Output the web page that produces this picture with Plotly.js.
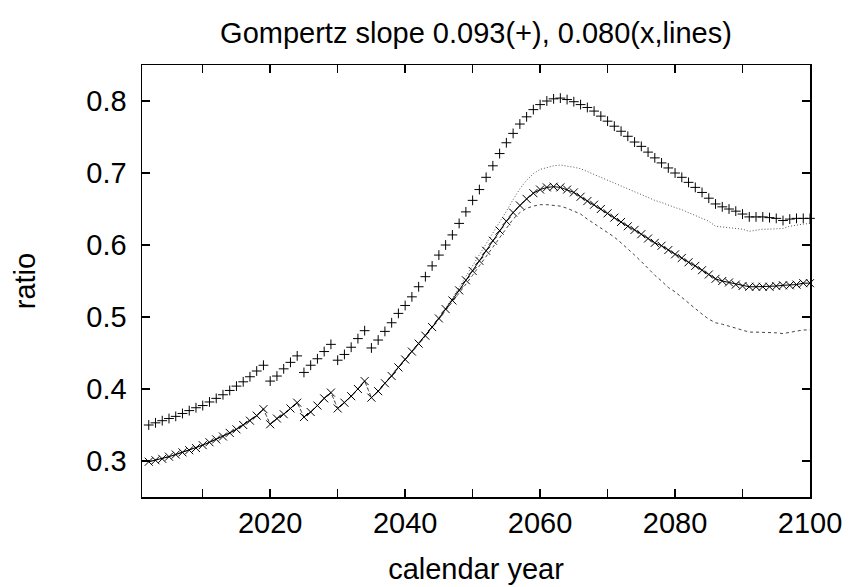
<!DOCTYPE html>
<html><head><meta charset="utf-8">
<script src="https://cdn.plot.ly/plotly-3.0.1.min.js"></script>
<style>body{margin:0;background:#fff}</style>
</head><body><div id="chart" style="width:850px;height:587px"></div>
<script>
const firstYear = 2002;

// Gompertz slope 0.093 (+ markers)
const plusVals = [
 0.350,0.353,0.356,0.359,0.362,0.366,0.370,0.374,0.377,
 0.382,0.387,0.392,0.398,0.404,0.410,0.417,0.425,0.433,
 0.411,0.418,0.428,0.437,0.446,
 0.423,0.433,0.442,0.452,0.462,
 0.440,0.448,0.458,0.470,0.481,
 0.457,0.468,0.480,0.492,0.505,
 0.516,0.528,0.542,0.556,0.571,0.586,0.600,0.614,0.630,0.646,
 0.662,0.677,0.694,0.710,0.727,0.742,0.755,0.768,0.778,0.788,
 0.795,0.800,0.803,0.804,0.802,0.799,0.795,0.791,0.786,0.779,
 0.772,0.765,0.758,0.751,0.743,0.737,0.729,0.721,0.714,0.707,
 0.700,0.694,0.687,0.680,0.673,0.665,0.657,0.653,0.650,0.647,
 0.643,0.639,0.639,0.639,0.638,0.637,0.634,0.636,0.637,0.637,0.637
];

// Gompertz slope 0.080 (x markers, solid line)
const xVals = [
 0.299,0.301,0.303,0.306,0.309,0.312,0.315,0.318,0.322,
 0.326,0.330,0.334,0.339,0.344,0.350,0.356,0.363,0.372,
 0.351,0.359,0.365,0.373,0.381,
 0.361,0.368,0.377,0.387,0.395,
 0.373,0.381,0.390,0.400,0.411,
 0.388,0.397,0.408,0.418,0.430,
 0.441,0.452,0.463,0.474,0.486,0.498,0.511,0.523,0.537,0.551,
 0.564,0.578,0.592,0.606,0.620,0.633,0.645,0.655,0.664,0.672,
 0.677,0.680,0.681,0.680,0.677,0.673,0.667,0.661,0.656,0.650,
 0.644,0.638,0.632,0.626,0.621,0.615,0.609,0.603,0.599,0.593,
 0.587,0.582,0.576,0.571,0.565,0.559,0.553,0.550,0.548,0.545,
 0.543,0.542,0.542,0.542,0.542,0.543,0.544,0.544,0.545,0.547,0.547
];

// upper dotted line
const dottedVals = [
 0.299,0.301,0.303,0.306,0.309,0.312,0.315,0.318,0.322,
 0.326,0.330,0.334,0.339,0.344,0.350,0.356,0.363,0.372,
 0.351,0.359,0.365,0.373,0.381,
 0.361,0.368,0.377,0.387,0.395,
 0.373,0.381,0.390,0.400,0.411,
 0.388,0.397,0.408,0.418,0.430,
 0.441,0.452,0.463,0.474,0.486,0.499,0.513,0.526,0.541,0.556,
 0.571,0.586,0.601,0.616,0.631,0.647,0.663,0.678,0.690,0.699,
 0.705,0.708,0.710,0.711,0.710,0.708,0.706,0.702,0.698,0.694,
 0.689,0.685,0.682,0.677,0.673,0.669,0.666,0.662,0.659,0.655,
 0.652,0.649,0.645,0.642,0.638,0.633,0.626,0.625,0.625,0.624,
 0.622,0.619,0.621,0.622,0.622,0.623,0.623,0.626,0.628,0.629,0.630
];

// lower dashed line
const dashedVals = [
 0.299,0.301,0.303,0.306,0.309,0.312,0.315,0.318,0.322,
 0.326,0.330,0.334,0.339,0.344,0.350,0.356,0.363,0.372,
 0.351,0.359,0.365,0.373,0.381,
 0.361,0.368,0.377,0.387,0.395,
 0.373,0.381,0.390,0.400,0.411,
 0.388,0.397,0.408,0.418,0.430,
 0.441,0.452,0.463,0.474,0.486,0.497,0.509,0.521,0.533,0.546,
 0.558,0.571,0.584,0.597,0.610,0.624,0.636,0.645,0.651,0.654,
 0.656,0.656,0.655,0.654,0.651,0.647,0.643,0.636,0.630,0.624,
 0.618,0.611,0.603,0.595,0.586,0.577,0.567,0.558,0.550,0.541,
 0.535,0.527,0.519,0.511,0.504,0.497,0.492,0.490,0.487,0.484,
 0.481,0.479,0.479,0.479,0.479,0.478,0.477,0.479,0.481,0.482,0.482
];

const breakYears = [2020, 2025, 2030, 2035];
const xTickVals = [2010,2020,2030,2040,2050,2060,2070,2080,2090,2100];
const xTickText = ['','2020','','2040','','2060','','2080','','2100'];
const yTickVals = [0.3,0.4,0.5,0.6,0.7,0.8];
const yTickText = ['0.3','0.4','0.5','0.6','0.7','0.8'];

const years = plusVals.map((_, i) => firstYear + i);
const solidX = [], solidY = [];
years.forEach((yr, i) => {
  if (breakYears.includes(yr)) { solidX.push(yr - 0.5); solidY.push(null); }
  solidX.push(yr); solidY.push(xVals[i]);
});

const fnt = {family: '"Liberation Sans", Arial, sans-serif', size: 29, color: '#000'};

const traces = [
  {x: years, y: dottedVals, mode: 'lines', line: {color: '#555', width: 1, dash: '1px,2px'}, hoverinfo: 'skip'},
  {x: years, y: dashedVals, mode: 'lines', line: {color: '#444', width: 1, dash: '3px,3px'}, hoverinfo: 'skip'},
  {x: solidX, y: solidY, mode: 'lines', connectgaps: false, line: {color: '#000', width: 1}, hoverinfo: 'skip'},
  {x: years, y: xVals, mode: 'markers', cliponaxis: false,
   marker: {symbol: 'x-thin', size: 8, color: '#000', line: {color: '#000', width: 1}}},
  {x: years, y: plusVals, mode: 'markers', cliponaxis: false,
   marker: {symbol: 'cross-thin', size: 7, color: '#000', line: {color: '#000', width: 1}}}
];

const axisCommon = {
  ticks: 'inside', ticklen: 8, tickwidth: 1.5, tickcolor: '#000',
  mirror: 'ticks', showline: true, linecolor: '#000', linewidth: 1.5,
  showgrid: false, zeroline: false, tickfont: fnt, tickmode: 'array'
};

const layout = {
  width: 850, height: 587,
  margin: {l: 142, r: 40, t: 65, b: 90},
  paper_bgcolor: '#fff', plot_bgcolor: '#fff',
  showlegend: false, font: fnt,
  title: {text: 'Gompertz slope 0.093(+), 0.080(x,lines)', font: fnt,
          x: 0.5, xref: 'paper', xanchor: 'center', y: 1 - 33/587, yref: 'container', yanchor: 'middle'},
  xaxis: Object.assign({}, axisCommon, {range: [2001, 2100], tickvals: xTickVals, ticktext: xTickText,
          title: {text: 'calendar year', font: fnt, standoff: 20}}),
  yaxis: Object.assign({}, axisCommon, {range: [0.25, 0.85], tickvals: yTickVals, ticktext: yTickText,
          ticklabelstandoff: 8,
          title: {text: 'ratio', font: fnt, standoff: 42}})
};

Plotly.newPlot('chart', traces, layout, {displayModeBar: false, staticPlot: true});
</script>
</body></html>
